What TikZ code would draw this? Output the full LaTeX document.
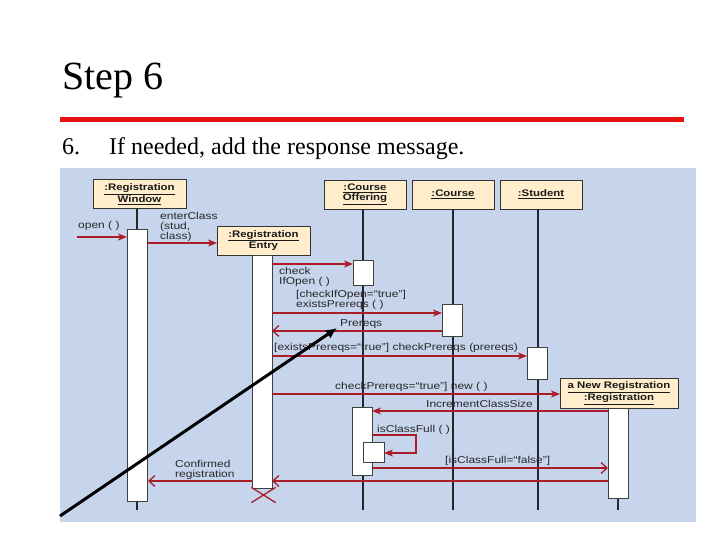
\documentclass[tikz,border=0pt]{standalone}
\usepackage{fontspec}
\setmainfont{Liberation Serif}
\newfontfamily\lblfont[FakeStretch=1.2]{Liberation Sans}
\usetikzlibrary{arrows.meta,shapes.misc}
\definecolor{bgblue}{RGB}{198,212,236}
\definecolor{cream}{RGB}{255,237,204}
\definecolor{msgred}{RGB}{172,28,40}
\definecolor{slidered}{RGB}{232,18,18}
\definecolor{txtgray}{RGB}{40,40,40}
\begin{document}
\begin{tikzpicture}[x=1pt,y=-1pt,
  lifebox/.style={draw=black!80,fill=cream,line width=0.9pt,inner sep=0pt,align=center,
    font=\lblfont\bfseries\fontsize{9.5}{10}\selectfont,text=black!90},
  actbar/.style={draw=black!75,fill=white,line width=0.9pt,inner sep=0pt,minimum width=20pt},
  lifeline/.style={draw=black!85,line width=1.4pt},
  msg/.style={draw=msgred,line width=1.3pt},
  sync/.style={msg,-{Stealth[length=9pt,width=7pt,inset=2.5pt]}},
  ret/.style={msg,-{Straight Barb[length=6pt,width=11pt]}},
  lbl/.style={inner sep=0pt,align=left,anchor=north west,text=txtgray,
    font=\lblfont\fontsize{10}{10}\selectfont},
]
\useasboundingbox (0,0) rectangle (720,540);
% slide header
\node[anchor=base west,inner sep=0pt,font=\fontsize{40}{40}\selectfont] (title) at (62,90) {Step 6};
\draw[slidered,line width=5.5pt] (60,119.5) -- (684,119.5);
\node[anchor=base west,inner sep=0pt,font=\fontsize{24}{24}\selectfont] (num) at (62,155) {6.};
\node[anchor=base west,inner sep=0pt,font=\fontsize{24}{24}\selectfont] (sub) at (109,155) {If needed, add the response message.};
% background panel
\fill[bgblue] (60,168) rectangle (696,522);
% lifeline boxes
\node[lifebox,minimum width=93pt,minimum height=29pt] (RW) at (139.5,194) {\underline{:Registration}\\\underline{Window}};
\node[lifebox,minimum width=93pt,minimum height=29pt] (RE) at (263.5,240.5) {\underline{:Registration}\\Entry};
\node[lifebox,minimum width=82pt,minimum height=29pt] (CO) at (365,194.5) {\underline{:Course}\\\underline{Offering}};
\node[lifebox,minimum width=82pt,minimum height=29pt] (CR) at (453,194.5) {\underline{:Course}};
\node[lifebox,minimum width=82pt,minimum height=29pt] (ST) at (541,194.5) {\underline{:Student}};
% lifeline ends
\coordinate (eRW) at (137,510);
\coordinate (eRE) at (262,488);
\coordinate (eCO) at (363,510);
\coordinate (eCR) at (453,510);
\coordinate (eST) at (538,510);
\coordinate (eNR) at (618,510);
\draw[lifeline] (RW.south -| eRW) -- (eRW);
\draw[lifeline] (RE.south -| eRE) -- (eRE);
\draw[lifeline] (CO.south -| eCO) -- (eCO);
\draw[lifeline] (CR.south -| eCR) -- (eCR);
\draw[lifeline] (ST.south -| eST) -- (eST);
% new registration object
\node[lifebox,minimum width=118pt,minimum height=30pt] (NR) at (619,393) {\underline{a New Registration}\\\underline{:Registration}};
\draw[lifeline] (NR.south -| eNR) -- (eNR);
% activation bars
\node[actbar,minimum height=272pt] (bRW) at (137,365) {};
\node[actbar,minimum height=233pt] (bRE) at (262,371.5) {};
\node[actbar,minimum height=25pt] (bCO1) at (363,272.5) {};
\node[actbar,minimum height=32pt] (bCR) at (452,320) {};
\node[actbar,minimum height=32pt] (bST) at (537,363) {};
\node[actbar,minimum height=68pt] (bCO2) at (362,441) {};
\node[actbar,minimum width=21pt,minimum height=20pt] (bCO3) at (373.5,452) {};
\node[actbar,minimum height=90pt] (bNR) at (618,453) {};
% destruction mark
\node[cross out,draw=msgred,line width=1.3pt,minimum width=23pt,minimum height=14pt,inner sep=0pt] (xRE) at (263.5,495) {};
% message endpoints
\coordinate (m1s) at (77,237);   \coordinate (m1e) at (127,237);
\coordinate (m2s) at (147,243);  \coordinate (m2e) at (217,243);
\coordinate (m3s) at (272,264);  \coordinate (m3e) at (353,264);
\coordinate (m4s) at (272,313);  \coordinate (m4e) at (442,313);
\coordinate (m5s) at (442,331);  \coordinate (m5e) at (272,331);
\coordinate (m6s) at (272,356);  \coordinate (m6e) at (527,356);
\coordinate (m7s) at (272,394);  \coordinate (m7e) at (560,394);
\coordinate (m8s) at (608,411);  \coordinate (m8e) at (372,411);
\coordinate (l1) at (372,435); \coordinate (l2) at (416,435);
\coordinate (l3) at (416,453); \coordinate (l4) at (384,453);
\coordinate (m9s) at (372,468);  \coordinate (m9e) at (608,468);
\coordinate (m10s) at (608,481); \coordinate (m10e) at (272,481);
\coordinate (m11s) at (252,481); \coordinate (m11e) at (148,481);
% messages
\draw[sync] (m1s) -- (m1e);
\draw[sync] (m2s) -- (m2e);
\draw[sync] (m3s) -- (m3e);
\draw[sync] (m4s) -- (m4e);
\draw[ret] (m5s) -- (m5e);
\draw[sync] (m6s) -- (m6e);
\draw[sync] (m7s) -- (m7e);
\draw[sync] (m8s) -- (m8e);
\draw[sync] (l1) -- (l2) -- (l3) -- (l4);
\draw[ret] (m9s) -- (m9e);
\draw[ret] (m10s) -- (m10e);
\draw[ret] (m11s) -- (m11e);
% labels
\node[lbl] (t1) at (78,221.5) {open ( )};
\node[lbl] (t2) at (160,212) {enterClass\\(stud,\\class)};
\node[lbl] (t3) at (279,267) {check\\IfOpen ( )};
\node[lbl] (t4) at (296,290) {[checkIfOpen=“true”]\\existsPrereqs ( )};
\node[lbl] (t5) at (340,319.5) {Prereqs};
\node[lbl] (t6) at (274,343) {[existsPrereqs=“true”] checkPrereqs (prereqs)};
\node[lbl] (t7) at (335,382) {checkPrereqs=“true”] new ( )};
\node[lbl] (t8) at (426,400) {IncrementClassSize};
\node[lbl] (t9) at (377,425) {isClassFull ( )};
\node[lbl] (t10) at (445,456) {[isClassFull=“false”]};
\node[lbl] (t11) at (175,460) {Confirmed\\registration};
% pointer arrow
\coordinate (pstart) at (60,516);
\coordinate (ptip) at (337,328);
\draw[black,line width=3pt,-{Latex[length=11pt,width=10pt]}] (pstart) -- (ptip);
\end{tikzpicture}
\end{document}
